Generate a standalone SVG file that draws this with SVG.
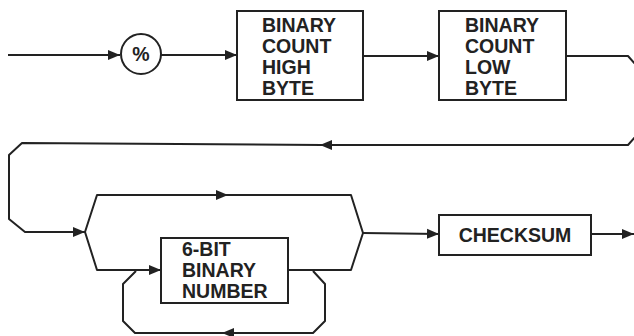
<svg xmlns="http://www.w3.org/2000/svg" width="634" height="336" viewBox="0 0 634 336">
<style>
.ln{fill:none;stroke:#222;stroke-width:2;stroke-linejoin:round}
.bx{fill:#fff;stroke:#222;stroke-width:2}
.t{font-family:"Liberation Sans",Arial,sans-serif;font-weight:bold;font-size:19.5px;fill:#222}
</style>
<defs>
<marker id="ah" markerUnits="userSpaceOnUse" markerWidth="13" markerHeight="12" refX="12" refY="6" orient="auto">
<path d="M0,1 L12,6 L0,11 Z" fill="#222"/>
</marker>
</defs>
<g id="connectors">
<path class="ln" d="M8,55 L120,55" marker-end="url(#ah)"/>
<path class="ln" d="M161,55 L237,55" marker-end="url(#ah)"/>
<path class="ln" d="M363,56 L439,56" marker-end="url(#ah)"/>
<path class="ln" d="M566,56 L628,56 L636,65"/>
<path class="ln" d="M636,136 L628,145 L320,145" marker-end="url(#ah)"/>
<path class="ln" d="M322,145 L22,143 L9,155 L9,219 L25,232 L85,232" marker-end="url(#ah)"/>
<path class="ln" d="M85,232 L97,195 L228,195" marker-end="url(#ah)"/>
<path class="ln" d="M225,195 L351,195 L363,233 L351,270 L288,270"/>
<path class="ln" d="M85,232 L97,270 L161,270" marker-end="url(#ah)"/>
<path class="ln" d="M313,271 L325,284 L325,321 L313,333 L222,333" marker-end="url(#ah)"/>
<path class="ln" d="M225,333 L135,333 L123,321 L123,284 L136,271"/>
<path class="ln" d="M363,233 L439,234" marker-end="url(#ah)"/>
<path class="ln" d="M591,234 L634,234" marker-end="url(#ah)"/>
</g>
<g id="percent">
<circle class="bx" cx="141" cy="54" r="20"/>
<text class="t" x="141" y="61" text-anchor="middle">%</text>
</g>
<g id="high-byte">
<rect class="bx" x="237" y="11" width="126" height="89"/>
<text class="t" x="262" y="32">BINARY</text>
<text class="t" x="262" y="53">COUNT</text>
<text class="t" x="262" y="74">HIGH</text>
<text class="t" x="262" y="95">BYTE</text>
</g>
<g id="low-byte">
<rect class="bx" x="439" y="11" width="127" height="89"/>
<text class="t" x="465" y="32">BINARY</text>
<text class="t" x="465" y="53">COUNT</text>
<text class="t" x="465" y="74">LOW</text>
<text class="t" x="465" y="95">BYTE</text>
</g>
<g id="binary-number">
<rect class="bx" x="161" y="238" width="127" height="65"/>
<text class="t" x="182" y="256">6-BIT</text>
<text class="t" x="182" y="277">BINARY</text>
<text class="t" x="182" y="298">NUMBER</text>
</g>
<g id="checksum">
<rect class="bx" x="439" y="215" width="152" height="40"/>
<text class="t" x="515" y="242" text-anchor="middle">CHECKSUM</text>
</g>
</svg>
